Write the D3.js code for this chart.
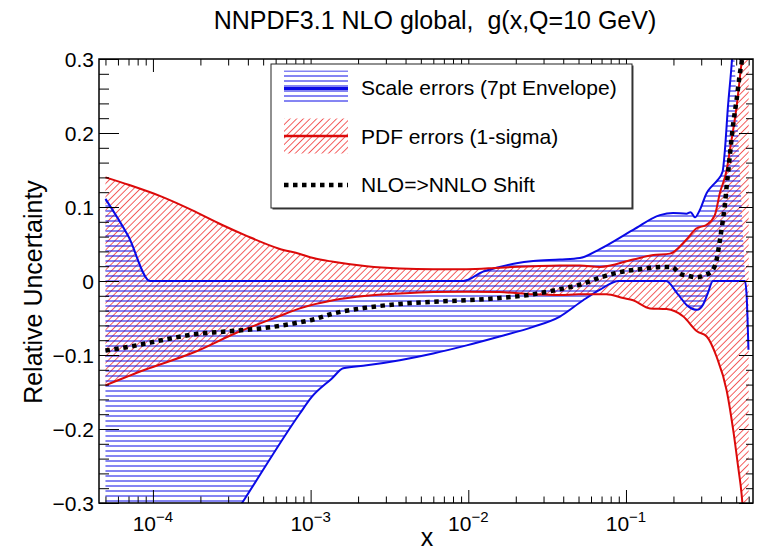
<!DOCTYPE html>
<html>
<head>
<meta charset="utf-8">
<script src="https://cdn.jsdelivr.net/npm/d3@7"></script>
<style>
  body { margin: 0; background: #fff; }
  svg { display: block; font-family: "Liberation Sans", Arial, Helvetica, sans-serif; }
</style>
</head>
<body>
<svg id="chart" width="757" height="551"></svg>
<script>
// values (x = momentum fraction, y = relative uncertainty)
const xPdfUp = [5e-5, 7e-5, 1.135e-4, 1.84e-4, 2.73e-4, 3.83e-4, 6.24e-4, 8.55e-4, 1.04e-3, 1.39e-3, 2.27e-3, 3.68e-3, 5.99e-3, 9.76e-3, 0.0158, 0.0258, 0.0381, 0.051, 0.0683, 0.111, 0.149, 0.19, 0.242, 0.279, 0.325, 0.366, 0.394, 0.435, 0.456, 0.503, 0.541, 0.57, 0.6];
const pdfUp  = [0.140, 0.130, 0.114, 0.094, 0.076, 0.062, 0.044, 0.0365, 0.031, 0.026, 0.020, 0.017, 0.016, 0.016, 0.018, 0.020, 0.021, 0.021, 0.019, 0.029, 0.035, 0.037, 0.056, 0.071, 0.076, 0.089, 0.119, 0.150, 0.177, 0.236, 0.295, 0.33, 0.40];

const xPdfDn = [5e-5, 8.9e-5, 1.84e-4, 3.31e-4, 6.24e-4, 8.55e-4, 1.39e-3, 2.27e-3, 3.68e-3, 5.99e-3, 9.76e-3, 0.0158, 0.0258, 0.0381, 0.05, 0.075, 0.096, 0.111, 0.142, 0.181, 0.231, 0.282, 0.325, 0.375, 0.435, 0.479, 0.515, 0.541, 0.56, 0.6];
const pdfDn  = [-0.141, -0.120, -0.096, -0.071, -0.048, -0.037, -0.026, -0.020, -0.017, -0.015, -0.0145, -0.015, -0.018, -0.019, -0.018, -0.018, -0.023, -0.026, -0.037, -0.038, -0.048, -0.068, -0.075, -0.102, -0.148, -0.202, -0.252, -0.288, -0.33, -0.45];

const xScaleUp = [5e-5, 7e-5, 9.6e-5, 1e-3, 9.3e-3, 0.0124, 0.0158, 0.0202, 0.0258, 0.0381, 0.051, 0.0683, 0.111, 0.164, 0.199, 0.242, 0.257, 0.274, 0.294, 0.325, 0.35, 0.383, 0.41, 0.424, 0.443, 0.47, 0.48];
const scaleUp  = [0.111, 0.060, 0.0, 0.0, 0.0, 0.0126, 0.019, 0.024, 0.027, 0.029, 0.031, 0.043, 0.069, 0.089, 0.092, 0.091, 0.093, 0.086, 0.096, 0.119, 0.128, 0.137, 0.148, 0.177, 0.235, 0.299, 0.33];

const xScaleDn = [5e-5, 3.65e-4, 8.55e-4, 1.014e-3, 1.36e-3, 1.61e-3, 2.27e-3, 3.68e-3, 5.99e-3, 9.76e-3, 0.0158, 0.0258, 0.0381, 0.0535, 0.068, 0.09, 0.18, 0.21, 0.247, 0.282, 0.308, 0.331, 0.356, 0.568, 0.581, 0.598];
const scaleDn  = [-0.58, -0.301, -0.179, -0.157, -0.132, -0.118, -0.114, -0.107, -0.098, -0.087, -0.075, -0.062, -0.048, -0.026, -0.012, 0, 0, -0.016, -0.034, -0.039, -0.032, -0.016, 0, 0, -0.016, -0.093];

const xShift = [5e-5, 7e-5, 1.135e-4, 1.84e-4, 3.0e-4, 4.89e-4, 7.95e-4, 1.04e-3, 1.39e-3, 2.27e-3, 3.68e-3, 5.99e-3, 9.76e-3, 0.0158, 0.0258, 0.0363, 0.051, 0.0718, 0.0914, 0.1226, 0.172, 0.195, 0.22, 0.248, 0.279, 0.315, 0.349, 0.375, 0.394, 0.41, 0.424, 0.435, 0.446, 0.479, 0.503, 0.528, 0.541, 0.56];
const shift  = [-0.094, -0.089, -0.080, -0.072, -0.068, -0.064, -0.057, -0.052, -0.044, -0.036, -0.031, -0.028, -0.026, -0.023, -0.018, -0.012, -0.005, 0.006, 0.012, 0.016, 0.019, 0.019, 0.010, 0.007, 0.005, 0.008, 0.013, 0.028, 0.055, 0.080, 0.103, 0.128, 0.150, 0.213, 0.245, 0.281, 0.295, 0.33];

// axes
const xDomain = [4.55e-5, 0.639];
const yDomain = [-0.3, 0.3];
const yMajor = [-0.3, -0.2, -0.1, 0, 0.1, 0.2, 0.3];
const yLabels = ['\u22120.3', '\u22120.2', '\u22120.1', '0', '0.1', '0.2', '0.3'];
const xMajor = [1e-4, 1e-3, 1e-2, 1e-1];
const xExp = ['\u22124', '\u22123', '\u22122', '\u22121'];

const legendItems = ['Scale errors (7pt Envelope)', 'PDF errors (1-sigma)', 'NLO=>NNLO Shift'];

const blue = '#0a0ae6';
const red = '#dc0a0a';

const frame = { left: 99, right: 753, top: 59, bottom: 503 };
const svg = d3.select('#chart');

const x = d3.scaleLog().domain(xDomain).range([frame.left, frame.right]);
const y = d3.scaleLinear().domain(yDomain).range([frame.bottom, frame.top]);

// clip + hatch patterns
const defs = svg.append('defs');
defs.append('clipPath').attr('id', 'clip')
  .append('rect')
  .attr('x', frame.left).attr('y', frame.top)
  .attr('width', frame.right - frame.left).attr('height', frame.bottom - frame.top);

const hb = defs.append('pattern').attr('id', 'hatchBlue')
  .attr('patternUnits', 'userSpaceOnUse').attr('width', 10).attr('height', 5);
hb.append('line').attr('x1', 0).attr('x2', 10).attr('y1', 1).attr('y2', 1)
  .attr('stroke', blue).attr('stroke-width', 1);

const hr = defs.append('pattern').attr('id', 'hatchRed')
  .attr('patternUnits', 'userSpaceOnUse').attr('width', 4.7).attr('height', 10)
  .attr('patternTransform', 'rotate(45)');
hr.append('line').attr('x1', 2.35).attr('x2', 2.35).attr('y1', 0).attr('y2', 10)
  .attr('stroke', '#f03030').attr('stroke-width', 0.8);

const pts = (xs, ys) => xs.map((v, i) => [v, ys[i]]);
const line = d3.line().x(d => x(d[0])).y(d => y(d[1])).curve(d3.curveMonotoneX);

function bandPath(xu, yu, xd, yd) {
  const a = line(pts(xu, yu));
  const b = line(pts(xd, yd).reverse());
  return a + 'L' + b.slice(1) + 'Z';
}

const plot = svg.append('g').attr('clip-path', 'url(#clip)');

// bands
plot.append('path').attr('d', bandPath(xPdfUp, pdfUp, xPdfDn, pdfDn)).attr('fill', 'url(#hatchRed)');
plot.append('path').attr('d', bandPath(xScaleUp, scaleUp, xScaleDn, scaleDn)).attr('fill', 'url(#hatchBlue)');

// band edges
[[xScaleUp, scaleUp], [xScaleDn, scaleDn]].forEach(([xs, ys]) => {
  plot.append('path').attr('d', line(pts(xs, ys)))
    .attr('fill', 'none').attr('stroke', blue).attr('stroke-width', 2);
});
[[xPdfUp, pdfUp], [xPdfDn, pdfDn]].forEach(([xs, ys]) => {
  plot.append('path').attr('d', line(pts(xs, ys)))
    .attr('fill', 'none').attr('stroke', red).attr('stroke-width', 2);
});

// NLO->NNLO shift
plot.append('path').attr('d', line(pts(xShift, shift)))
  .attr('fill', 'none').attr('stroke', '#000').attr('stroke-width', 4.5)
  .attr('stroke-dasharray', '4.5,4.5');

// ticks (ROOT style, pointing inwards, on all four sides)
const xMinor = [];
for (let e = -5; e <= -1; e++) {
  for (let k = 2; k <= 9; k++) {
    const v = k * Math.pow(10, e);
    if (v >= xDomain[0] && v <= xDomain[1]) xMinor.push(v);
  }
}
const yMinor = d3.range(-15, 16).map(i => i * 0.02);

function ticks(gen, vals, size, tr) {
  svg.append('g').attr('transform', tr)
    .call(gen.tickValues(vals).tickSize(size).tickFormat(''))
    .call(g => g.select('.domain').remove())
    .call(g => g.selectAll('line').attr('stroke', '#000'));
}
ticks(d3.axisBottom(x), xMajor, -13, `translate(0,${frame.bottom})`);
ticks(d3.axisBottom(x), xMinor, -6.5, `translate(0,${frame.bottom})`);
ticks(d3.axisTop(x), xMajor, -13, `translate(0,${frame.top})`);
ticks(d3.axisTop(x), xMinor, -6.5, `translate(0,${frame.top})`);
ticks(d3.axisLeft(y), yMajor, -20, `translate(${frame.left},0)`);
ticks(d3.axisLeft(y), yMinor, -10, `translate(${frame.left},0)`);
ticks(d3.axisRight(y), yMajor, -14, `translate(${frame.right},0)`);
ticks(d3.axisRight(y), yMinor, -7, `translate(${frame.right},0)`);

// frame
svg.append('rect')
  .attr('x', frame.left).attr('y', frame.top)
  .attr('width', frame.right - frame.left).attr('height', frame.bottom - frame.top)
  .attr('fill', 'none').attr('stroke', '#000').attr('stroke-width', 1.5);

// tick labels
svg.append('g').selectAll('text').data(yMajor).join('text')
  .attr('x', 94).attr('y', d => y(d) + 7.5)
  .attr('text-anchor', 'end').attr('font-size', 21)
  .text((d, i) => yLabels[i]);

const xl = svg.append('g').selectAll('text').data(xMajor).join('text')
  .attr('x', d => x(d)).attr('y', 531)
  .attr('text-anchor', 'middle').attr('font-size', 21);
xl.append('tspan').text('10');
xl.append('tspan').attr('dy', -9).attr('font-size', 15).text((d, i) => xExp[i]);

// axis titles
svg.append('text').attr('x', 427).attr('y', 546)
  .attr('text-anchor', 'middle').attr('font-size', 25).text('x');
svg.append('text').attr('transform', 'translate(42,292) rotate(-90)')
  .attr('text-anchor', 'middle').attr('font-size', 25).text('Relative Uncertainty');
svg.append('text').attr('x', 435).attr('y', 29)
  .attr('text-anchor', 'middle').attr('font-size', 25)
  .style('white-space', 'pre')
  .text('NNPDF3.1 NLO global,  g(x,Q=10 GeV)');

// legend
const lg = svg.append('g');
lg.append('rect').attr('x', 272.5).attr('y', 65.5).attr('width', 361).attr('height', 144).attr('fill', '#444');
lg.append('rect').attr('x', 271).attr('y', 64).attr('width', 361).attr('height', 144)
  .attr('fill', '#fff').attr('stroke', '#222').attr('stroke-width', 1);

lg.append('rect').attr('x', 284).attr('y', 70.5).attr('width', 64).attr('height', 31.5).attr('fill', 'url(#hatchBlue)');
lg.append('line').attr('x1', 284).attr('x2', 348).attr('y1', 88.5).attr('y2', 88.5)
  .attr('stroke', blue).attr('stroke-width', 3);

lg.append('rect').attr('x', 284).attr('y', 118.5).attr('width', 64).attr('height', 35).attr('fill', 'url(#hatchRed)');
lg.append('line').attr('x1', 284).attr('x2', 348).attr('y1', 136).attr('y2', 136)
  .attr('stroke', red).attr('stroke-width', 2.5);

lg.append('line').attr('x1', 284).attr('x2', 348).attr('y1', 185).attr('y2', 185)
  .attr('stroke', '#000').attr('stroke-width', 4.5).attr('stroke-dasharray', '4.5,4.5');

lg.selectAll('text.item').data(legendItems).join('text')
  .attr('class', 'item')
  .attr('x', 361).attr('y', (d, i) => [95, 143.5, 192][i])
  .attr('font-size', 21).text(d => d);
</script>
</body>
</html>
